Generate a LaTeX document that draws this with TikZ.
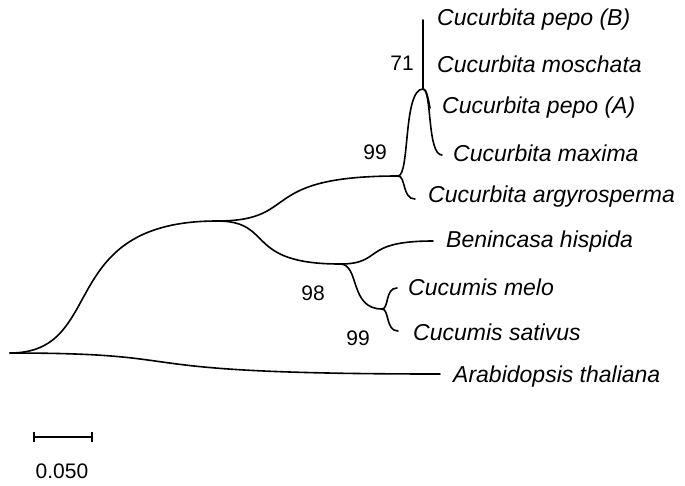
\documentclass[tikz,border=0pt]{standalone}
\usepackage{fontspec}
\setmainfont{Liberation Sans}
\begin{document}
\begin{tikzpicture}[x=1pt,y=-1pt,
  branch/.style={line width=1.6pt,line cap=round},
  lab/.style={anchor=west,inner sep=0pt,font=\itshape\fontsize{23}{27}\selectfont},
  boot/.style={inner sep=0pt,font=\fontsize{21}{25}\selectfont},
  bar/.style={line width=1.8pt}]
\useasboundingbox (0,0) rectangle (685,485);
% tree nodes
\coordinate (root) at (10,353);
\coordinate (ing) at (217,221);
\coordinate (cuc) at (398,176);
\coordinate (cm) at (423,89);
\coordinate (tB) at (423,20);
\coordinate (tA) at (430,108);
\coordinate (tMa) at (442,155);
\coordinate (tAr) at (415,199);
\coordinate (bc) at (340,264);
\coordinate (tBe) at (433,241);
\coordinate (cs) at (382,309);
\coordinate (tMe) at (397,288);
\coordinate (tSa) at (398,331);
\coordinate (tAt) at (440,374);
% branches
\draw[branch] (root) .. controls +(98,0) and +(-163,0) .. (ing);
\draw[branch] (ing) .. controls +(85,0) and +(-143,0) .. (cuc);
\draw[branch] (ing) .. controls +(58,0) and +(-97,0) .. (bc);
\draw[branch] (cuc) .. controls +(12,0) and +(-20,0) .. (cm);
\draw[branch] (cuc) .. controls +(8,0) and +(-13,0) .. (tAr);
\draw[branch] (cm) .. controls +(9,0) and +(-15,0) .. (tMa);
\draw[branch] (cm) .. controls +(3.5,0) and +(-2,-10) .. (tA);
\draw[branch] (cm) -- (tB);
\draw[branch] (bc) .. controls +(44,0) and +(-73,0) .. (tBe);
\draw[branch] (bc) .. controls +(20,0) and +(-33,0) .. (cs);
\draw[branch] (cs) .. controls +(7,0) and +(-12,0) .. (tMe);
\draw[branch] (cs) .. controls +(7.5,0) and +(-12.6,0) .. (tSa);
\draw[branch] (root) .. controls +(202,0) and +(-340,0) .. (tAt);
% taxon labels
\node[lab] (lB) at (437,20) {Cucurbita pepo (B)};
\node[lab] (lMo) at (437,64) {Cucurbita moschata};
\node[lab] (lA) at (442,108) {Cucurbita pepo (A)};
\node[lab] (lMa) at (453,153) {Cucurbita maxima};
\node[lab] (lAr) at (428,197) {Cucurbita argyrosperma};
\node[lab] (lBe) at (446,242) {Benincasa hispida};
\node[lab] (lMe) at (408,287) {Cucumis melo};
\node[lab] (lSa) at (413,332) {Cucumis sativus};
\node[lab] (lAt) at (453,377) {Arabidopsis thaliana};
% bootstrap values
\node[boot] (b71) at (402,63) {71};
\node[boot] (b99a) at (375,152) {99};
\node[boot] (b98) at (313,293) {98};
\node[boot] (b99b) at (358,338) {99};
% scale bar
\coordinate (s1) at (34,437);
\coordinate (s2) at (92,437);
\draw[bar] (s1) -- (s2);
\draw[bar] ([yshift=-5pt]s1) -- ([yshift=5pt]s1);
\draw[bar] ([yshift=-5pt]s2) -- ([yshift=5pt]s2);
\node[boot] (sl) at (62,471) {0.050};
\end{tikzpicture}
\end{document}
